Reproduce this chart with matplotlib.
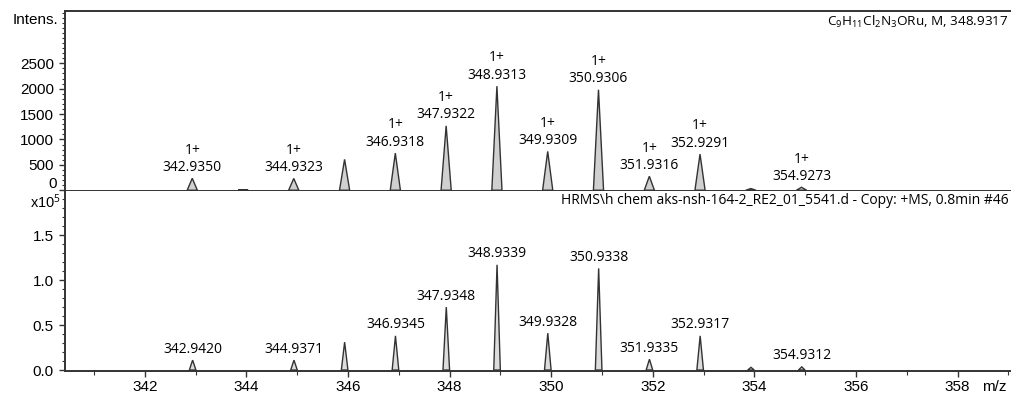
import numpy as np
import matplotlib.pyplot as plt
from matplotlib.ticker import MultipleLocator, FuncFormatter

plt.rcParams['mathtext.fontset'] = 'custom'
plt.rcParams['mathtext.rm'] = 'Open Sans'
plt.rcParams['mathtext.it'] = 'Open Sans:italic'

# --- simulated isotope pattern (top) ---
sim_mz = [342.9350, 343.9360, 344.9323, 345.9330, 346.9318, 347.9322, 348.9313,
          349.9309, 350.9306, 351.9316, 352.9291, 353.9300, 354.9273]
sim_int = [235, 12, 232, 608, 731, 1268, 2050, 765, 1980, 275, 712, 33, 59]
sim_labeled = [True, False, True, False, True, True, True, True, True, True, True, False, True]

# --- measured spectrum (bottom) ---
meas_mz = [342.9420, 344.9371, 345.9340, 346.9345, 347.9348, 348.9339,
           349.9328, 350.9338, 351.9335, 352.9317, 353.9320, 354.9312]
meas_int = [11000, 11000, 31000, 38000, 70000, 117000, 41000, 113000, 12000, 38000, 3000, 3500]
meas_labeled = [True, True, False, True, True, True, True, True, True, True, False, True]

sim_title = 'C$_9$H$_{11}$Cl$_2$N$_3$ORu, M, 348.9317'
meas_title = r'HRMS\h chem aks-nsh-164-2_RE2_01_5541.d - Copy: +MS, 0.8min #46'

LINE = '#333333'
TXT = 'Open Sans'
TICKFONT = 'Liberation Sans'

fig = plt.figure(figsize=(10.11, 3.94), dpi=100)
W, H = 1011, 394
left = 65 / W
ax_top = fig.add_axes([left, 1 - 191 / H, 1 - left, 180 / H])
ax_bot = fig.add_axes([left, 1 - 370.5 / H, 1 - left, 179.5 / H], sharex=ax_top)


def draw_peaks(ax, mz, inten, half, fc):
    # each centroid drawn as a narrow triangular profile
    for m, h in zip(mz, inten):
        ax.fill([m - half, m, m + half], [0, h, 0], facecolor=fc,
                edgecolor=LINE, linewidth=1.0, joinstyle='miter')


draw_peaks(ax_top, sim_mz, sim_int, 0.10, '#d0d0d0')
draw_peaks(ax_bot, meas_mz, meas_int, 0.065, '#dcdcdc')

for m, h, lab in zip(sim_mz, sim_int, sim_labeled):
    if lab:
        ax_top.annotate(f'1+\n{m:.4f}', xy=(m, h), xytext=(0, 2.5), textcoords='offset points',
                        ha='center', va='bottom', fontsize=10, family=TXT,
                        linespacing=1.2, multialignment='center')
for m, h, lab in zip(meas_mz, meas_int, meas_labeled):
    if lab:
        ax_bot.annotate(f'{m:.4f}', xy=(m, h), xytext=(0, 2.5), textcoords='offset points',
                        ha='center', va='bottom', fontsize=10, family=TXT)

ax_top.set_xlim(340.43, 359.05)
ax_top.set_ylim(-15, 3530)
ax_bot.set_ylim(-500, 1.99e5)

for ax in (ax_top, ax_bot):
    ax.spines['right'].set_visible(False)
    for s in ('left', 'top', 'bottom'):
        ax.spines[s].set_color(LINE)
        ax.spines[s].set_linewidth(1.4)
    ax.tick_params(axis='y', which='major', length=4, width=1, color=LINE,
                   labelsize=11, pad=4)
    ax.tick_params(axis='y', which='minor', length=2.5, width=0.8, color=LINE)

ax_bot.spines['top'].set_visible(False)

# the zero label of the upper panel sits a little higher to clear the x10^5 mark
ax_top.yaxis.set_major_locator(plt.FixedLocator([0, 500, 1000, 1500, 2000, 2500]))
ax_top.yaxis.set_major_formatter(FuncFormatter(lambda v, p: '' if v == 0 else f'{v:.0f}'))
ax_top.yaxis.set_minor_locator(MultipleLocator(100))
ax_top.tick_params(axis='x', which='both', bottom=False, labelbottom=False)

ax_bot.yaxis.set_major_locator(plt.FixedLocator([0, 0.5e5, 1.0e5, 1.5e5]))
ax_bot.yaxis.set_minor_locator(MultipleLocator(0.1e5))
ax_bot.yaxis.set_major_formatter(FuncFormatter(lambda v, p: f'{v / 1e5:.1f}'))
ax_bot.xaxis.set_major_locator(MultipleLocator(2))
ax_bot.xaxis.set_minor_locator(MultipleLocator(1))
ax_bot.tick_params(axis='x', which='major', length=4, width=1, color=LINE,
                   labelsize=11, pad=3)
ax_bot.tick_params(axis='x', which='minor', length=3, width=0.8, color=LINE)

for ax in (ax_top, ax_bot):
    for t in ax.get_yticklabels() + ax.get_xticklabels():
        t.set_family(TICKFONT)

# header texts
ax_top.text(0.997, 0.985, sim_title, transform=ax_top.transAxes, ha='right', va='top',
            fontsize=9.7, family=TXT)
ax_bot.text(0.997, 0.99, meas_title, transform=ax_bot.transAxes, ha='right', va='top',
            fontsize=10, family=TXT)

fig.text(58 / W, 1 - 19.5 / H, 'Intens.', ha='right', va='center', fontsize=11, family=TICKFONT)
fig.text(57 / W, 1 - 184 / H, '0', ha='right', va='center', fontsize=11, family=TICKFONT)
fig.text(61 / W, 1 - 202 / H, 'x10$^5$', ha='right', va='center', fontsize=10.5, family=TICKFONT)
ax_bot.annotate('m/z', xy=(1, 0), xycoords='axes fraction', xytext=(-3, -7),
                textcoords='offset points', ha='right', va='top', fontsize=11, family=TICKFONT)

fig.savefig('out.png', dpi=100)
